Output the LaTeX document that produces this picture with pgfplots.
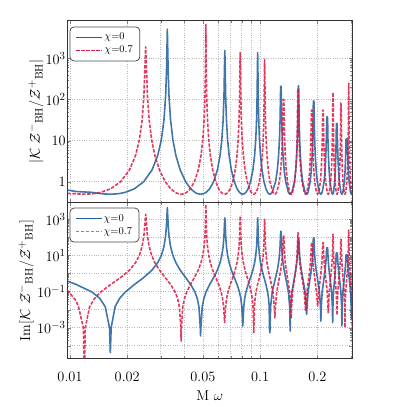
\documentclass[border=0pt]{standalone}
\usepackage{pgfplots}
\pgfplotsset{compat=1.18}
\usepackage{pgfplotstable}
\usetikzlibrary{calc}

\definecolor{bhblue}{RGB}{31,94,156}
\definecolor{bhred}{RGB}{220,24,66}
\definecolor{gridgray}{RGB}{185,185,185}

% chi = 0 : w = M omega, f = |K Z-/Z+|, g = Im[K Z-/Z+]
\pgfplotstableread{
w f g
0.00968 0.63 0.38
0.010758 0.58 0.25
0.01304 0.553 0.095
0.014344 0.518 0.042
0.01532 0.505 0.0146
0.01614 0.5 9.85e-4
0.0163 0.5 4.1e-5
0.016462 0.5 9.85e-4
0.017272 0.505 0.0146
0.018244 0.518 0.042
0.01954 0.553 0.095
0.021808 0.675 0.245
0.0244 1.0 0.595
0.026992 1.93 1.54
0.028936 4.36 3.98
0.030232 10.5 10.1
0.031204 31.8 31.5
0.031852 127 126
0.032176 507 506
0.0325 5100 4500
0.032822 507 506
0.033144 127 126
0.033788 31.8 31.5
0.034754 10.5 10.1
0.036042 4.36 3.98
0.037974 1.93 1.54
0.04055 1.0 0.595
0.043126 0.675 0.245
0.04538 0.553 0.095
0.046668 0.518 0.042
0.047634 0.505 0.0146
0.048439 0.5 9.85e-4
0.0486 0.5 3.5e-4
0.048766 0.5 9.85e-4
0.049596 0.505 0.0146
0.050592 0.518 0.042
0.05192 0.553 0.095
0.054244 0.675 0.245
0.0569 1.0 0.595
0.059556 1.93 1.54
0.061548 4.36 3.98
0.062876 10.5 10.1
0.063872 31.8 31.5
0.064536 127 126
0.064868 507 506
0.0652 1550 1200
0.065516 507 506
0.065832 127 126
0.066464 31.8 31.5
0.067412 10.5 10.1
0.068676 4.36 3.98
0.070572 1.93 1.54
0.0731 1.0 0.595
0.075628 0.675 0.245
0.07784 0.553 0.095
0.079104 0.518 0.042
0.080052 0.505 0.0146
0.081 0.5 1.23e-3
0.08196 0.505 0.0146
0.08292 0.518 0.042
0.0842 0.553 0.095
0.08644 0.675 0.245
0.089 1.0 0.595
0.09156 1.93 1.54
0.09348 4.36 3.98
0.09476 10.5 10.1
0.09572 31.8 31.5
0.09636 127 126
0.09668 507 506
0.097 1380 1230
0.09731 507 506
0.09762 127 126
0.09824 31.8 31.5
0.09917 10.5 10.1
0.10041 4.36 3.98
0.10227 1.93 1.54
0.10475 1.0 0.595
0.10723 0.675 0.245
0.1094 0.553 0.095
0.11064 0.518 0.042
0.11157 0.505 0.0146
0.111845 0.5 9.85e-4
0.1125 0.5 5.2e-4
0.11266 0.5 9.85e-4
0.11346 0.505 0.0146
0.1157 0.553 0.095
0.1205 1.0 0.595
0.12306 1.93 1.54
0.12498 4.36 3.98
0.12626 10.5 10.1
0.12722 31.8 31.5
0.12786 127 126
0.12818 210 220
0.1285 210 220
0.128806 210 220
0.129112 127 126
0.129724 31.8 31.5
0.130642 10.5 10.1
0.131866 4.36 3.98
0.133702 1.93 1.54
0.13615 1.0 0.595
0.14074 0.553 0.095
0.142882 0.505 0.0146
0.143647 0.5 9.85e-4
0.1438 0.5 6.5e-4
0.143952 0.5 9.85e-4
0.144712 0.505 0.0146
0.14684 0.553 0.095
0.1514 1.0 0.595
0.153832 1.93 1.54
0.155656 4.36 3.98
0.156872 10.5 10.1
0.157784 31.8 31.5
0.158392 127 95
0.158696 215 95
0.159 215 95
0.15933 215 95
0.15966 127 95
0.16032 31.8 31.5
0.16131 10.5 10.1
0.16263 4.36 3.98
0.16461 1.93 1.54
0.16725 1.0 0.595
0.1722 0.553 0.095
0.17451 0.505 0.0146
0.1755 0.5 5.5e-3
0.17643 0.505 0.0146
0.1786 0.553 0.095
0.18325 1.0 0.595
0.18573 1.93 1.54
0.18759 4.36 3.98
0.18883 10.5 10.1
0.18976 31.8 31.5
0.19038 92 95
0.191 92 95
0.1917 92 95
0.1924 31.8 31.5
0.19345 10.5 10.1
0.19485 4.36 3.98
0.19695 1.93 1.54
0.19975 1.0 0.595
0.2050 0.553 0.095
0.20745 0.505 0.0146
0.2085 0.5 2.3e-3
0.20949 0.505 0.0146
0.2118 0.553 0.095
0.21675 1.0 0.595
0.21939 1.93 1.54
0.22137 4.36 3.98
0.22269 10.5 10.1
0.22368 31.8 27
0.22434 38 27
0.225 38 27
0.22562 38 27
0.22624 31.8 27
0.22717 10.5 10.1
0.22841 4.36 3.98
0.23027 1.93 1.54
0.23275 1.0 0.595
0.2374 0.553 0.095
0.23957 0.505 0.0146
0.2405 0.5 1.9e-3
0.24122 0.505 0.0146
0.2429 0.553 0.095
0.2465 1.0 0.595
0.24842 1.93 1.54
0.24986 4.36 3.98
0.25082 10.5 10.1
0.25154 26 14
0.2525 26 14
0.25382 26 14
0.25481 10.5 10.1
0.25613 4.36 3.98
0.25811 1.93 1.54
0.26075 1.0 0.595
0.2657 0.553 0.095
0.26801 0.505 0.0146
0.269 0.5 1.26e-3
0.26996 0.505 0.0146
0.2722 0.553 0.095
0.277 1.0 0.595
0.27956 1.93 1.54
0.28148 4.36 3.98
0.28276 10.5 10.1
0.28372 11 11
0.285 11 11
0.28636 11 11
0.28738 10.5 10.1
0.28874 4.36 3.98
0.29078 1.93 1.54
0.2935 1.0 0.595
0.2986 0.553 0.095
0.30098 0.505 0.0146
0.302 0.5 3.2e-3
0.30296 0.505 0.0146
0.3052 0.553 0.095
}\tabzero

% chi = 0.7
\pgfplotstableread{
w f g
0.00968 0.52 0.12
0.01075 0.51 0.032
0.011084 0.505 0.0146
0.011764 0.5 9.85e-4
0.0119 0.5 1e-6
0.012031 0.5 9.85e-4
0.012686 0.505 0.0146
0.013472 0.518 0.042
0.01452 0.553 0.095
0.016354 0.675 0.245
0.01845 1.0 0.595
0.020546 1.93 1.54
0.022118 4.36 3.98
0.023166 10.5 10.1
0.023952 31.8 31.5
0.024476 127 126
0.024738 507 506
0.025 1900 1900
0.025268 507 506
0.025536 127 126
0.026072 31.8 31.5
0.026876 10.5 10.1
0.027948 4.36 3.98
0.029556 1.93 1.54
0.0317 1.0 0.595
0.033844 0.675 0.245
0.03572 0.553 0.095
0.036792 0.518 0.042
0.037596 0.505 0.0146
0.038266 0.5 9.85e-4
0.0384 0.5 1.8e-4
0.038534 0.5 9.85e-4
0.039204 0.505 0.0146
0.040008 0.518 0.042
0.04108 0.553 0.095
0.042956 0.675 0.245
0.0451 1.0 0.595
0.047244 1.93 1.54
0.048852 4.36 3.98
0.049924 10.5 10.1
0.050728 31.8 31.5
0.051264 127 126
0.051532 507 506
0.0518 6900 6800
0.052064 507 506
0.052328 127 126
0.052856 31.8 31.5
0.053648 10.5 10.1
0.054704 4.36 3.98
0.056288 1.93 1.54
0.0584 1.0 0.595
0.060512 0.675 0.245
0.06236 0.553 0.095
0.063416 0.518 0.042
0.064208 0.505 0.0146
0.065 0.5 1.9e-3
0.06581 0.505 0.0146
0.06662 0.518 0.042
0.0677 0.553 0.095
0.06959 0.675 0.245
0.07175 1.0 0.595
0.07391 1.93 1.54
0.07553 4.36 3.98
0.07661 10.5 10.1
0.07742 31.8 31.5
0.07796 127 126
0.07823 507 506
0.0785 1380 1500
0.07878 507 506
0.07906 127 126
0.07962 31.8 31.5
0.08046 10.5 10.1
0.08158 4.36 3.98
0.08326 1.93 1.54
0.0855 1.0 0.595
0.08774 0.675 0.245
0.0897 0.553 0.095
0.09082 0.518 0.042
0.09166 0.505 0.0146
0.09236 0.5 9.85e-4
0.0925 0.5 5.2e-4
0.09263 0.5 9.85e-4
0.09328 0.505 0.0146
0.09406 0.518 0.042
0.0951 0.553 0.095
0.09692 0.675 0.245
0.099 1.0 0.595
0.10108 1.93 1.54
0.10264 4.36 3.98
0.10368 10.5 10.1
0.10446 31.8 31.5
0.10498 127 126
0.10524 507 506
0.1055 950 1000
0.10578 507 506
0.10606 127 126
0.10662 31.8 31.5
0.10746 10.5 10.1
0.10858 4.36 3.98
0.11026 1.93 1.54
0.1125 1.0 0.595
0.1167 0.553 0.095
0.11866 0.505 0.0146
0.1195 0.5 3.5e-3
0.120292 0.505 0.0146
0.12214 0.553 0.095
0.1261 1.0 0.595
0.128212 1.93 1.54
0.129796 4.36 3.98
0.130852 10.5 10.1
0.131644 31.8 31.5
0.132172 100 117
0.1327 100 117
0.133212 100 117
0.133724 31.8 31.5
0.134492 10.5 10.1
0.135516 4.36 3.98
0.137052 1.93 1.54
0.1391 1.0 0.595
0.14294 0.553 0.095
0.144732 0.505 0.0146
0.1455 0.5 3.2e-3
0.14625 0.505 0.0146
0.148 0.553 0.095
0.15175 1.0 0.595
0.15375 1.93 1.54
0.15525 4.36 3.98
0.15625 10.5 10.1
0.157 31.8 31.5
0.1575 127 126
0.15775 180 180
0.158 180 180
0.15831 180 180
0.15862 127 126
0.15924 31.8 31.5
0.16017 10.5 10.1
0.16141 4.36 3.98
0.16327 1.93 1.54
0.16575 1.0 0.595
0.1704 0.553 0.095
0.17257 0.505 0.0146
0.1735 0.5 8.3e-3
0.174286 0.505 0.0146
0.17612 0.553 0.095
0.18005 1.0 0.595
0.182146 1.93 1.54
0.183718 4.36 3.98
0.184766 10.5 10.1
0.185552 31.8 31.5
0.186076 55 51
0.1866 55 51
0.187156 55 51
0.187712 31.8 31.5
0.188546 10.5 10.1
0.189658 4.36 3.98
0.191326 1.93 1.54
0.19355 1.0 0.595
0.19772 0.553 0.095
0.2005 0.5 0.0158
0.2032 0.553 0.095
0.20725 1.0 0.595
0.20941 1.93 1.54
0.21103 4.36 3.98
0.21211 10.5 10.1
0.21292 31.8 31.5
0.21346 55 51
0.214 55 51
0.21456 55 51
0.21512 31.8 31.5
0.21596 10.5 10.1
0.21708 4.36 3.98
0.21876 1.93 1.54
0.221 1.0 0.595
0.2252 0.553 0.095
0.22716 0.505 0.0146
0.228 0.5 6.3e-3
0.22881 0.505 0.0146
0.2307 0.553 0.095
0.23475 1.0 0.595
0.23691 1.93 1.54
0.23853 4.36 3.98
0.23961 10.5 10.1
0.24042 31.8 31.5
0.24096 127 126
0.24123 146 148
0.2415 146 148
0.24174 146 148
0.24198 127 126
0.24246 31.8 31.5
0.24318 10.5 10.1
0.24414 4.36 3.98
0.24558 1.93 1.54
0.2475 1.0 0.595
0.2511 0.553 0.095
0.25278 0.505 0.0146
0.2535 0.5 5e-3
0.25425 0.505 0.0146
0.256 0.553 0.095
0.25975 1.0 0.595
0.26175 1.93 1.54
0.26325 4.36 3.98
0.26425 10.5 10.1
0.265 31.8 31.5
0.2655 83 78
0.266 83 78
0.26652 83 78
0.26704 31.8 31.5
0.26782 10.5 10.1
0.26886 4.36 3.98
0.27042 1.93 1.54
0.2725 1.0 0.595
0.2764 0.553 0.095
0.27822 0.505 0.0146
0.279 0.5 1e-3
0.27978 0.505 0.0146
0.2816 0.553 0.095
0.2855 1.0 0.595
0.28758 1.93 1.54
0.28914 4.36 3.98
0.29018 10.5 10.1
0.29096 31.8 31.5
0.29148 127 126
0.29174 247 250
0.292 247 250
0.29226 247 250
0.29252 127 126
0.29304 31.8 31.5
0.29382 10.5 10.1
0.29486 4.36 3.98
0.29642 1.93 1.54
0.2985 1.0 0.595
0.3024 0.553 0.095
0.30422 0.505 0.0146
0.305 0.5 1e-3
}\tabseven

\tikzset{
  curvezero/.style={bhblue, line width=1.6pt, opacity=0.85, line join=round},
  curveseven/.style={bhred, line width=1.6pt, opacity=0.85, line join=round,
    dash pattern=on 3.5pt off 1.5pt},
}

\begin{document}
\begin{tikzpicture}
\begin{axis}[name=top,
    scale only axis, width=285bp, height=182bp,
    xmode=log, ymode=log,
    xmin=0.00968, xmax=0.305,
    ymin=0.31, ymax=8200,
    xtick={0.01,0.02,0.05,0.1,0.2},
    minor xtick={0.03,0.04,0.06,0.07,0.08,0.09,0.3},
    xticklabels={},
    ytick={1,10,100,1000},
    yticklabels={$1$,$10$,$10^{2}$,$10^{3}$},
    xmajorgrids, xminorgrids, ymajorgrids,
    major grid style={gridgray, dotted, line width=0.6pt},
    minor grid style={gridgray, dotted, line width=0.6pt},
    tick align=inside, tick pos=both,
    major tick length=3.5bp, minor tick length=2bp,
    axis line style={black!80, line width=0.8pt},
    ticklabel style={font=\fontsize{15}{18}\selectfont},
    yticklabel style={inner xsep=1.5bp},
    label style={font=\fontsize{15}{18}\selectfont},
    ylabel={$|\mathcal{K}\ \mathcal{Z}^{-}{}_{\mathrm{BH}}/\mathcal{Z}^{+}{}_{\mathrm{BH}}|$},
    ylabel shift=-3bp,
    legend cell align=left,
    legend image code/.code={\draw[#1] (0bp,0bp) -- (26bp,0bp);},
    legend style={at={(0.008,0.968)}, anchor=north west,
      draw=black!70, rounded corners=4bp, line width=0.8pt, fill=white,
      font=\fontsize{10.5}{12}\selectfont,
      inner xsep=5.5bp, inner ysep=4bp,
      nodes={inner sep=1.5bp, text height=7.5bp, text depth=2.5bp}},
]
\addlegendimage{bhblue, line width=1.5pt}
\addlegendentry{$\chi$=0}
\addlegendimage{bhred, line width=1.5pt, dash pattern=on 3.5pt off 1.5pt}
\addlegendentry{$\chi$=0.7}
\addplot[curvezero, forget plot] table[x=w, y=f] {\tabzero};
\addplot[curveseven, forget plot] table[x=w, y=f] {\tabseven};
\end{axis}

\begin{axis}[name=bot,
    at={(top.south west)}, anchor=north west,
    scale only axis, width=285bp, height=155.7bp,
    xmode=log, ymode=log,
    xmin=0.00968, xmax=0.305,
    ymin=2e-5, ymax=8300,
    xtick={0.01,0.02,0.05,0.1,0.2},
    minor xtick={0.03,0.04,0.06,0.07,0.08,0.09,0.3},
    xticklabels={$0.01$,$0.02$,$0.05$,$0.1$,$0.2$},
    ytick={1e-4,1e-3,1e-2,1e-1,1,10,100,1000},
    yticklabels={,$10^{-3}$,,$10^{-1}$,,$10^{1}$,,$10^{3}$},
    xmajorgrids, xminorgrids, ymajorgrids,
    major grid style={gridgray, dotted, line width=0.6pt},
    minor grid style={gridgray, dotted, line width=0.6pt},
    tick align=inside, tick pos=both,
    major tick length=3.5bp, minor tick length=2bp,
    axis line style={black!80, line width=0.8pt},
    ticklabel style={font=\fontsize{15}{18}\selectfont},
    yticklabel style={inner xsep=1.5bp},
    xticklabel shift=10bp,
    label style={font=\fontsize{15}{18}\selectfont},
    xlabel={$\mathrm{M}\ \omega$},
    xlabel shift=3bp,
    ylabel={$\mathrm{Im}[\mathcal{K}\ \mathcal{Z}^{-}{}_{\mathrm{BH}}/\mathcal{Z}^{+}{}_{\mathrm{BH}}]$},
    ylabel shift=-1.5bp,
    legend cell align=left,
    legend image code/.code={\draw[#1] (0bp,0bp) -- (26bp,0bp);},
    legend style={at={(0.008,0.968)}, anchor=north west,
      draw=black!70, rounded corners=4bp, line width=0.8pt, fill=white,
      font=\fontsize{10.5}{12}\selectfont,
      inner xsep=5.5bp, inner ysep=4bp,
      nodes={inner sep=1.5bp, text height=7.5bp, text depth=2.5bp}},
]
\addlegendimage{bhblue, line width=0.7pt}
\addlegendentry{$\chi$=0}
\addlegendimage{bhred, line width=0.7pt, opacity=0.7, dash pattern=on 3.5pt off 1.5pt}
\addlegendentry{$\chi$=0.7}
\addplot[curvezero, forget plot] table[x=w, y=g] {\tabzero};
\addplot[curveseven, forget plot] table[x=w, y=g] {\tabseven};
\end{axis}

\pgfresetboundingbox
\path[use as bounding box] ($(top.north west)+(-67.3bp,20.7bp)$) rectangle ($(top.north west)+(339.7bp,-386.3bp)$);
\end{tikzpicture}
\end{document}
